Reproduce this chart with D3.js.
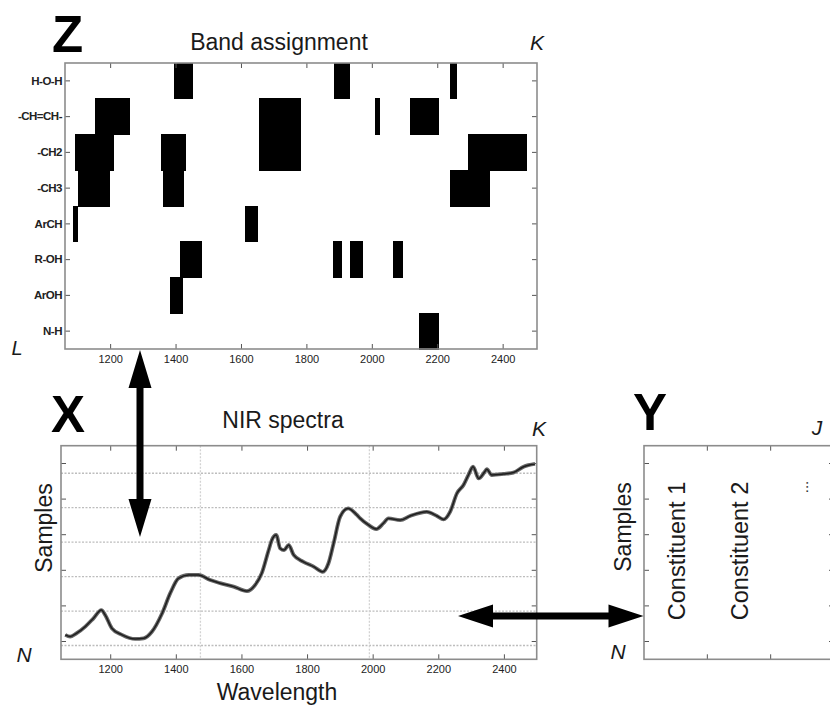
<!DOCTYPE html>
<html>
<head>
<meta charset="utf-8">
<script src="https://cdn.jsdelivr.net/npm/d3@7/dist/d3.min.js"></script>
<style>
  html, body { margin: 0; padding: 0; background: #fff; }
  svg { display: block; font-family: "Liberation Sans", Arial, sans-serif; }
</style>
</head>
<body>
<svg id="fig" width="830" height="706"></svg>
<script>
// ---- Data ----
const wavelengthTicks = [1200, 1400, 1600, 1800, 2000, 2200, 2400];

// Functional groups (rows of the Z matrix)
const groups = ["H-O-H", "-CH=CH-", "-CH2", "-CH3", "ArCH", "R-OH", "ArOH", "N-H"];

// Absorption band assignments: [group, start nm, end nm]
const bandAssignments = [
  ["H-O-H", 1394, 1453], ["H-O-H", 1883, 1934], ["H-O-H", 2240, 2261],
  ["-CH=CH-", 1154, 1261], ["-CH=CH-", 1654, 1783], ["-CH=CH-", 2011, 2024], ["-CH=CH-", 2116, 2205],
  ["-CH2", 1093, 1212], ["-CH2", 1355, 1432], ["-CH2", 1654, 1783], ["-CH2", 2293, 2475],
  ["-CH3", 1103, 1200], ["-CH3", 1363, 1426], ["-CH3", 2240, 2362],
  ["ArCH", 1085, 1103], ["ArCH", 1613, 1652],
  ["R-OH", 1414, 1481], ["R-OH", 1881, 1909], ["R-OH", 1932, 1973], ["R-OH", 2064, 2094],
  ["ArOH", 1384, 1422],
  ["N-H", 2145, 2204]
];

// NIR spectrum (wavelength in nm, absorbance)
const spectrumWavelength = [1063, 1078, 1098, 1124, 1149, 1173, 1185, 1205, 1236, 1276,
  1302, 1327, 1358, 1383, 1408, 1439, 1469, 1505, 1535, 1576,
  1617, 1642, 1662, 1683, 1693, 1706, 1718, 1730, 1744, 1759,
  1789, 1820, 1848, 1865, 1881, 1901, 1925, 1952, 1962, 1987,
  2011, 2033, 2048, 2084, 2114, 2165, 2196, 2216, 2236, 2257,
  2277, 2292, 2306, 2323, 2340, 2348, 2363, 2399, 2429, 2460, 2495];
const spectrumAbsorbance = [0.231, 0.226, 0.236, 0.255, 0.279, 0.303, 0.288, 0.250, 0.231, 0.219,
  0.221, 0.240, 0.293, 0.352, 0.395, 0.405, 0.405, 0.390, 0.381, 0.371,
  0.358, 0.376, 0.410, 0.477, 0.507, 0.521, 0.482, 0.477, 0.492, 0.463,
  0.443, 0.429, 0.414, 0.438, 0.497, 0.574, 0.598, 0.579, 0.569, 0.550,
  0.538, 0.555, 0.569, 0.564, 0.576, 0.588, 0.576, 0.566, 0.588, 0.642,
  0.666, 0.695, 0.719, 0.685, 0.702, 0.712, 0.695, 0.698, 0.702, 0.719, 0.727];

const absorbanceGrid = [0.2, 0.3, 0.4, 0.5, 0.6, 0.7];
const wavelengthGrid = [1475, 1990];

const samples = [1, 2, 3, 4, 5, 6];
const constituents = ["Constituent 1", "Constituent 2", "..."];

// ---- Drawing ----
const svg = d3.select("#fig");
const frameColor = "#8c8c8c";
const tickColor = "#555";
const font = "\"Liberation Sans\", Arial, sans-serif";

function styleAxis(g, fontSize) {
  g.select(".domain").remove();
  g.selectAll(".tick line").attr("stroke", tickColor).attr("stroke-width", 1);
  g.selectAll(".tick text").attr("fill", "#222").attr("font-size", fontSize)
    .attr("font-family", font);
}
function frame(x0, y0, x1, y1) {
  svg.append("rect").attr("x", x0).attr("y", y0).attr("width", x1 - x0).attr("height", y1 - y0)
    .attr("fill", "none").attr("stroke", frameColor).attr("stroke-width", 1.6);
}
function label(txt, x, y, opts = {}) {
  const t = svg.append("text").attr("x", x).attr("y", y).text(txt)
    .attr("font-family", font)
    .attr("font-size", opts.size || 23)
    .attr("font-weight", opts.weight || "normal")
    .attr("font-style", opts.style || "normal")
    .attr("text-anchor", opts.anchor || "middle")
    .attr("fill", opts.fill || "#1a1a1a");
  if (opts.rotate) t.attr("transform", `rotate(-90,${x},${y})`);
  return t;
}

// ---------- Z: band assignment ----------
const zL = 65, zR = 537, zT = 63, zB = 349;
const xZ = d3.scaleLinear().domain([1062, 2505]).range([zL, zR]);
const yZ = d3.scaleBand().domain(groups).range([zT, zB]).padding(0);

svg.append("g").attr("shape-rendering", "crispEdges")
  .selectAll("rect").data(bandAssignments).join("rect")
  .attr("x", d => xZ(d[1]))
  .attr("width", d => xZ(d[2]) - xZ(d[1]))
  .attr("y", d => yZ(d[0]) - 0.5)
  .attr("height", yZ.bandwidth() + 1)
  .attr("fill", "#000");

svg.append("g").attr("transform", `translate(0,${zB})`)
  .call(d3.axisBottom(xZ).tickValues(wavelengthTicks).tickSize(-5).tickPadding(6).tickFormat(d3.format("d")))
  .call(g => styleAxis(g, 11));
svg.append("g").attr("transform", `translate(0,${zT})`)
  .call(d3.axisTop(xZ).tickValues(wavelengthTicks).tickSize(-5).tickFormat(""))
  .call(g => styleAxis(g, 11));
svg.append("g").attr("transform", `translate(${zL},0)`)
  .call(d3.axisLeft(yZ).tickSize(-5).tickPadding(3))
  .call(g => styleAxis(g, 11.5))
  .call(g => g.selectAll(".tick text").attr("font-weight", "bold").attr("letter-spacing", "-0.5"));
svg.append("g").attr("transform", `translate(${zR},0)`)
  .call(d3.axisRight(yZ).tickSize(-5).tickFormat(""))
  .call(g => styleAxis(g, 11));
frame(zL, zT, zR, zB);

label("Z", 52, 52, { size: 51, weight: "bold", anchor: "start", fill: "#000" });
label("Band assignment", 279, 50);
label("K", 537, 50, { size: 21, style: "italic" });
label("L", 17, 355, { size: 20, style: "italic" });

// ---------- X: NIR spectra ----------
const xL = 61, xR = 536.7, xT = 445.7, xB = 659.3;
const xX = d3.scaleLinear().domain([1050, 2500]).range([xL, xR]);
const yA = d3.scaleLinear().domain([0.16, 0.78]).range([xB, xT]);
const ySamp = d3.scaleBand().domain(samples).range([xB, xT]);

// dotted grid
svg.append("g").selectAll("line").data(absorbanceGrid).join("line")
  .attr("x1", xL).attr("x2", xR).attr("y1", d => yA(d)).attr("y2", d => yA(d))
  .attr("stroke", "#bdbdbd").attr("stroke-width", 1.3).attr("stroke-dasharray", "2,1.5");
svg.append("g").selectAll("line").data(wavelengthGrid).join("line")
  .attr("y1", xT).attr("y2", xB).attr("x1", d => xX(d)).attr("x2", d => xX(d))
  .attr("stroke", "#d2d2d2").attr("stroke-width", 1.3).attr("stroke-dasharray", "2,1.5");

const spectrum = spectrumWavelength.map((w, i) => [w, spectrumAbsorbance[i]]);
const line = d3.line().x(d => xX(d[0])).y(d => yA(d[1])).curve(d3.curveMonotoneX);
svg.append("path").datum(spectrum).attr("d", line)
  .attr("fill", "none").attr("stroke", "#666").attr("stroke-width", 3.8).attr("stroke-linejoin", "round");
svg.append("path").datum(spectrum).attr("d", line)
  .attr("fill", "none").attr("stroke", "#1e1e1e").attr("stroke-width", 1.5).attr("stroke-linejoin", "round");

svg.append("g").attr("transform", `translate(0,${xB})`)
  .call(d3.axisBottom(xX).tickValues(wavelengthTicks).tickSize(-5).tickPadding(6).tickFormat(d3.format("d")))
  .call(g => styleAxis(g, 11));
svg.append("g").attr("transform", `translate(0,${xT})`)
  .call(d3.axisTop(xX).tickValues(wavelengthTicks).tickSize(-5).tickFormat(""))
  .call(g => styleAxis(g, 11));
svg.append("g").attr("transform", `translate(${xL},0)`)
  .call(d3.axisLeft(ySamp).tickSize(-5).tickFormat(""))
  .call(g => styleAxis(g, 11));
svg.append("g").attr("transform", `translate(${xR},0)`)
  .call(d3.axisRight(ySamp).tickSize(-5).tickFormat(""))
  .call(g => styleAxis(g, 11));
frame(xL, xT, xR, xB);

label("X", 51, 432, { size: 51, weight: "bold", anchor: "start", fill: "#000" });
label("NIR spectra", 283, 428);
label("K", 539, 436, { size: 21, style: "italic" });
label("Samples", 52, 528, { rotate: true });
label("N", 24, 662, { size: 21, style: "italic" });
label("Wavelength", 277, 700);

// ---------- Y: reference values ----------
const yL = 644, yR = 834;
const xC = d3.scaleBand().domain(constituents).range([yL, yR]);

svg.append("g").selectAll("text").data(constituents).join("text")
  .attr("transform", d => d === "..."
      ? `translate(${xC(d) + xC.bandwidth() / 2 + 6},487) rotate(-90)`
      : `translate(${xC(d) + xC.bandwidth() / 2 + 9},551) rotate(-90)`)
  .attr("text-anchor", "middle")
  .attr("font-family", font)
  .attr("font-size", d => d === "..." ? 15 : 23.5)
  .attr("fill", "#1a1a1a")
  .text(d => d);

const colEdges = constituents.slice(1).map(c => xC(c));
svg.append("g").selectAll("line").data(colEdges).join("line")
  .attr("x1", d => d).attr("x2", d => d).attr("y1", xT).attr("y2", xT + 5)
  .attr("stroke", tickColor);
svg.append("g").selectAll("line").data(colEdges).join("line")
  .attr("x1", d => d).attr("x2", d => d).attr("y1", xB).attr("y2", xB - 5)
  .attr("stroke", tickColor);
svg.append("g").attr("transform", `translate(${yL},0)`)
  .call(d3.axisLeft(ySamp).tickSize(-5).tickFormat(""))
  .call(g => styleAxis(g, 11));
svg.append("g").attr("transform", `translate(${yR},0)`)
  .call(d3.axisRight(ySamp).tickSize(-5).tickFormat(""))
  .call(g => styleAxis(g, 11));
frame(yL, xT, yR, xB);

label("Y", 633, 430, { size: 51, weight: "bold", anchor: "start", fill: "#000" });
label("J", 817, 435, { size: 21, style: "italic" });
label("Samples", 631, 527, { rotate: true });
label("N", 618, 659, { size: 21, style: "italic" });

// ---------- Double-headed arrows linking the blocks ----------
function doubleArrow(x1, y1, x2, y2, headLen, headW, shaft) {
  const dx = x2 - x1, dy = y2 - y1, L = Math.hypot(dx, dy);
  const ux = dx / L, uy = dy / L, px = -uy, py = ux;
  const P = (s, o) => [x1 + ux * s + px * o, y1 + uy * s + py * o];
  const pts = [
    P(0, 0), P(headLen, headW / 2), P(headLen, shaft / 2), P(L - headLen, shaft / 2),
    P(L - headLen, headW / 2), P(L, 0), P(L - headLen, -headW / 2), P(L - headLen, -shaft / 2),
    P(headLen, -shaft / 2), P(headLen, -headW / 2)
  ];
  svg.append("path").attr("d", d3.line()(pts) + "Z").attr("fill", "#000");
}
doubleArrow(140, 350, 140, 537, 38, 23, 7);
doubleArrow(458, 616, 643.5, 616, 35, 23, 7);
</script>
</body>
</html>
